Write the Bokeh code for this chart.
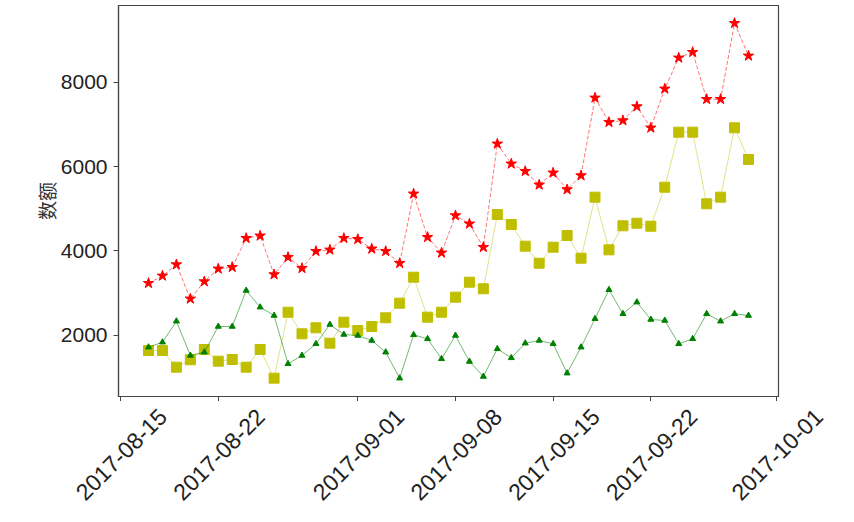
import math
import pandas as pd
from bokeh.plotting import figure
from bokeh.layouts import column
from bokeh.models import Range1d, FixedTicker, CustomJSTickFormatter, DatetimeTickFormatter
from bokeh.embed import file_html
from bokeh.resources import INLINE

start_date = "2017-08-17"
n_days = 44
dates = pd.date_range(start_date, periods=n_days, freq="D")

red_vals = [3238, 3413, 3680, 2869, 3278, 3579, 3617, 4303, 4360, 3444, 3853, 3593, 3995, 4028, 4303,
            4279, 4052, 3995, 3711, 5354, 4327, 3957, 4840, 4644, 4090, 6537, 6064, 5889, 5567, 5851, 5456, 5787,
            7626, 7049, 7089, 7420, 6916, 7839, 8573, 8706, 7593, 7593, 9392, 8620]
yellow_vals = [1645, 1645, 1250, 1425, 1669, 1392, 1432, 1250, 1669, 990, 2551, 2040, 2182, 1818, 2315,
               2118, 2213, 2419, 2765, 3380, 2433, 2551, 2907, 3262, 3105, 4864, 4627, 4114, 3711, 4090, 4367, 3830,
               5274, 4028, 4596, 4658, 4587, 5510, 6812, 6812, 5117, 5274, 6916, 6166]
green_vals = [1723, 1842, 2338, 1527, 1605, 2213, 2213, 3065, 2670, 2473, 1330, 1527, 1803, 2260, 2024,
              2000, 1882, 1605, 990, 2016, 1921, 1448, 2000, 1385, 1030, 1685, 1471, 1818, 1882, 1803, 1108, 1723,
              2395, 3082, 2513, 2789, 2379, 2355, 1803, 1921, 2513, 2338, 2513, 2473]

x_tick_labels = ["2017-08-15", "2017-08-22", "2017-09-01", "2017-09-08",
                 "2017-09-15", "2017-09-22", "2017-10-01"]
y_ticks = [2000, 4000, 6000, 8000]
y_label = "数额"

x_range = Range1d(pd.Timestamp("2017-08-14 20:24"), pd.Timestamp("2017-10-01 03:36"))
tick_ms = [pd.Timestamp(s).value // 10**6 for s in x_tick_labels]

# ---------------- main chart (frame, ticks, data) ----------------
p = figure(width=854, height=401, x_axis_type="datetime",
           output_backend="svg", toolbar_location=None,
           x_range=x_range, y_range=Range1d(556, 9811),
           min_border_left=118, min_border_right=76,
           min_border_top=5, min_border_bottom=5,
           frame_align=False)

p.line(dates, red_vals, line_color="#ff0000", line_alpha=0.55, line_width=1, line_dash="4 2")
p.scatter(dates, red_vals, marker="star", size=11, fill_color="#ff0000", line_color="#ff0000")

p.line(dates, yellow_vals, line_color="#bfbf00", line_alpha=0.45, line_width=1)
p.scatter(dates, yellow_vals, marker="square", size=10, fill_color="#bfbf00", line_color="#bfbf00")

p.line(dates, green_vals, line_color="#008000", line_alpha=0.55, line_width=1)
p.scatter(dates, green_vals, marker="triangle", size=6, fill_color="#008000", line_color="#008000")

p.grid.visible = False
p.outline_line_color = "#444444"
p.outline_line_width = 1.2
p.background_fill_color = "white"
p.border_fill_color = "white"

# tick marks only on the chart's own x axis (labels are drawn by the strip below)
p.xaxis.ticker = FixedTicker(ticks=tick_ms)
p.xaxis.formatter = CustomJSTickFormatter(code="return ''")
p.xaxis.major_label_text_font_size = "0px"
p.xaxis.major_label_text_color = None
p.xaxis.major_label_standoff = 0
p.yaxis.ticker = FixedTicker(ticks=y_ticks)

for ax in (p.xaxis, p.yaxis):
    ax.axis_line_color = "#444444"
    ax.axis_line_width = 1.2
    ax.major_tick_line_color = "#444444"
    ax.major_tick_out = 5
    ax.major_tick_in = 0
    ax.minor_tick_line_color = None

p.yaxis.major_label_text_font = "Liberation Sans"
p.yaxis.major_label_text_font_size = "21px"
p.yaxis.major_label_text_color = "#222222"
p.yaxis.major_label_standoff = 6

p.yaxis.axis_label = y_label
p.yaxis.axis_label_text_font = "Noto Sans CJK SC"
p.yaxis.axis_label_text_font_size = "19px"
p.yaxis.axis_label_text_font_style = "normal"
p.yaxis.axis_label_text_color = "#333333"
p.yaxis.axis_label_standoff = -2

# ---------------- date labels strip (same x range, frame offset so the
# rotated labels sit centred under the ticks, matplotlib style) ----------------
offset = 42
p2 = figure(width=854, height=121, x_axis_type="datetime",
            output_backend="svg", toolbar_location=None,
            x_range=x_range, y_range=Range1d(0, 1), y_axis_location=None,
            min_border_left=118 + offset, min_border_right=76 - offset,
            min_border_top=0, min_border_bottom=120,
            frame_align=False)
p2.grid.visible = False
p2.outline_line_color = None
p2.background_fill_color = "white"
p2.border_fill_color = "white"
fmt = "%Y-%m-%d"
p2.xaxis.ticker = FixedTicker(ticks=tick_ms)
p2.xaxis.formatter = DatetimeTickFormatter(microseconds=fmt, milliseconds=fmt, seconds=fmt,
                                           minsec=fmt, minutes=fmt, hourmin=fmt, hours=fmt,
                                           days=fmt, months=fmt, years=fmt)
p2.xaxis.axis_line_color = None
p2.xaxis.major_tick_line_color = None
p2.xaxis.minor_tick_line_color = None
p2.xaxis.major_tick_out = 0
p2.xaxis.major_tick_in = 0
p2.xaxis.major_label_standoff = 10
p2.xaxis.major_label_orientation = math.pi / 4
p2.xaxis.major_label_text_font = "Liberation Sans"
p2.xaxis.major_label_text_font_size = "23px"
p2.xaxis.major_label_text_color = "#222222"

layout = column(p, p2, spacing=0)
open("out.html", "w").write(file_html(layout, INLINE))
